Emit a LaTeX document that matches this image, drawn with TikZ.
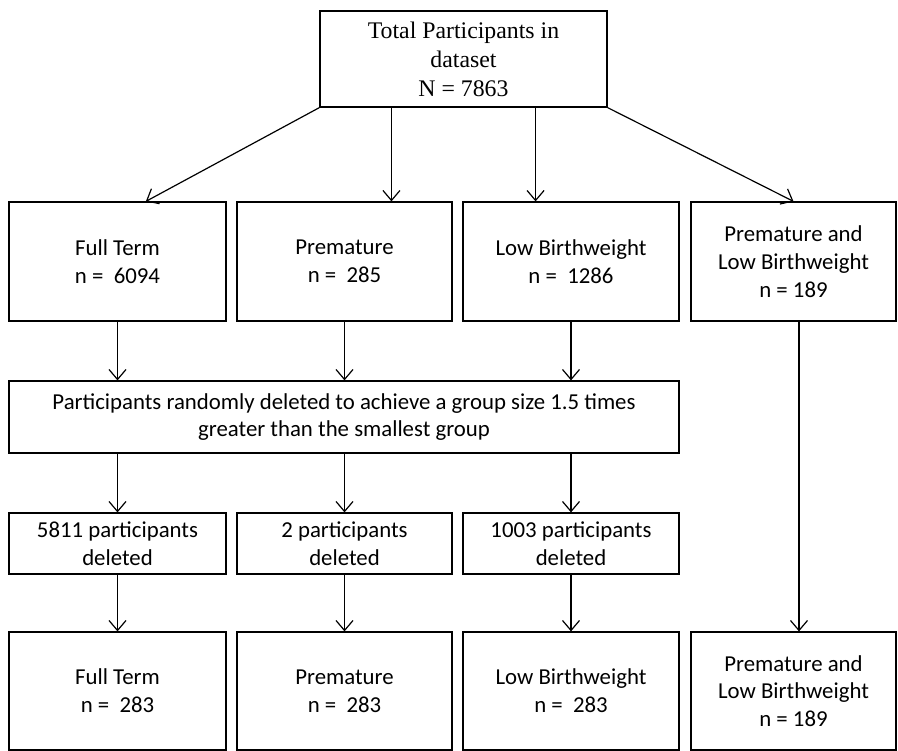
\documentclass[tikz,border=0pt]{standalone}
\usepackage{fontspec}
\newfontfamily\calfont{Carlito}
\newfontfamily\timesfont{Liberation Serif}
\usetikzlibrary{arrows.meta,calc}
\tikzset{
    box/.style={draw, line width=1.2pt, align=center, inner sep=0pt,
        font=\calfont\fontsize{22.8}{27.7}\selectfont},
    arr/.style={line width=1.2pt, -{Straight Barb[length=10pt,width=17pt]}}
}

\begin{document}
\begin{tikzpicture}[x=1pt,y=-1pt]

    % Page frame.
    \useasboundingbox (0,0) rectangle (898,751);

    % Total sample.
    \node[box, minimum width=287pt, minimum height=96pt,
        font=\timesfont\fontsize{23.8}{29}\selectfont] (tot) at (463.5,59)
        {Total Participants in\\dataset\\N = 7863};

    % Groups before deletion.
    \node[box, minimum width=217pt, minimum height=119pt] (ful) at (117.5,261.5) {Full Term\\n = \ 6094};
    \node[box, minimum width=215pt, minimum height=119pt] (pre) at (344.5,261.5) {Premature\\n = \ 285};
    \node[box, minimum width=216pt, minimum height=119pt] (low) at (571,261.5) {Low Birthweight\\n = \ 1286};
    \node[box, minimum width=205pt, minimum height=119pt] (pal) at (793.5,261.5) {Premature and\\Low Birthweight\\n = 189};

    % Random deletion step.
    \node[box, minimum width=670pt, minimum height=72pt] (del) at (344,417)
        {Participants randomly deleted to achieve a group size 1.5 times\\greater than the smallest group};

    % Deleted counts.
    \node[box, minimum width=217pt, minimum height=61pt] (dful) at (117.5,543.5) {5811 participants\\deleted};
    \node[box, minimum width=215pt, minimum height=61pt] (dpre) at (344.5,543.5) {2 participants\\deleted};
    \node[box, minimum width=216pt, minimum height=61pt] (dlow) at (571,543.5) {1003 participants\\deleted};

    % Final groups.
    \node[box, minimum width=217pt, minimum height=118pt] (ful2) at (117.5,691) {Full Term\\n = \ 283};
    \node[box, minimum width=215pt, minimum height=118pt] (pre2) at (344.5,691) {Premature\\n = \ 283};
    \node[box, minimum width=216pt, minimum height=118pt] (low2) at (571,691) {Low Birthweight\\n = \ 283};
    \node[box, minimum width=205pt, minimum height=118pt] (pal2) at (793.5,691) {Premature and\\Low Birthweight\\n = 189};

    % Arrows from the total.
    \coordinate (t1) at ($(tot.south west)!.25!(tot.south east)$);
    \coordinate (t2) at ($(tot.south west)!.75!(tot.south east)$);
    \draw[arr] (tot.south west) -- ($(ful.north west)!.63!(ful.north east)$);
    \draw[arr] (t1) -- (t1 |- pre.north);
    \draw[arr] (t2) -- (t2 |- low.north);
    \draw[arr] (tot.south east) -- (pal.north);

    % Arrows down the columns.
    \foreach \a/\b/\c in {ful/dful/ful2, pre/dpre/pre2, low/dlow/low2} {
        \draw[arr] (\a.south) -- (\a.south |- del.north);
        \draw[arr] (\a.south |- del.south) -- (\b.north);
        \draw[arr] (\b.south) -- (\c.north);
    }
    \draw[arr] ([xshift=5.5pt]pal.south) -- ([xshift=5.5pt]pal2.north);
\end{tikzpicture}
\end{document}
